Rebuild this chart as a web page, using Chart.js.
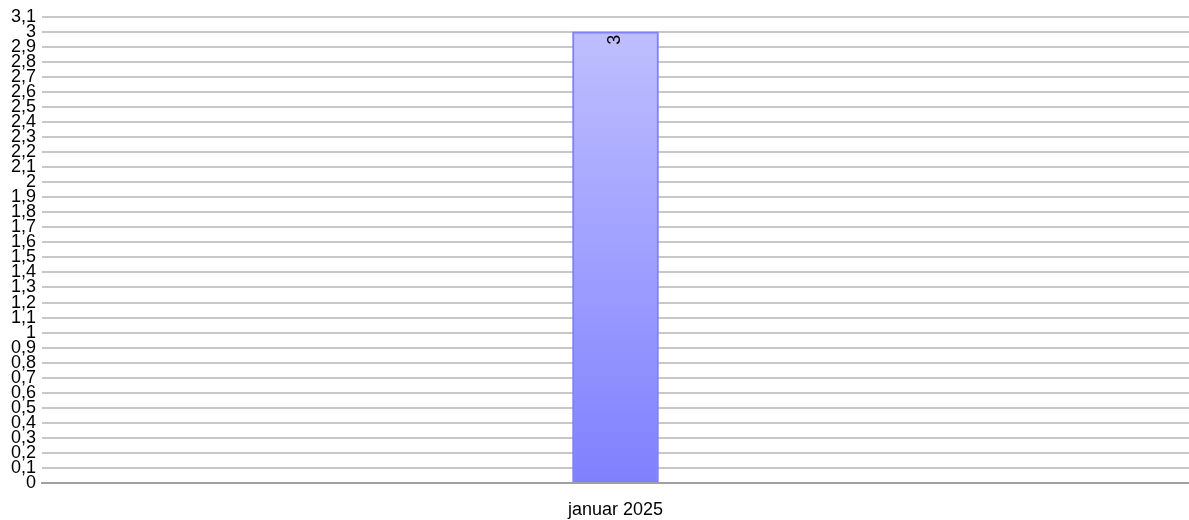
<!DOCTYPE html>
<html lang="nb">
<head>
  <meta charset="UTF-8" />
  <title>Januar 2025</title>
  <style>
    body { margin: 0; padding: 0; background: #fff; }
    #wrap { width: 1189px; height: 520px; }
  </style>
</head>
<body>
  <div id="wrap"><canvas id="chart" width="1189" height="520"></canvas></div>

  <script src="https://cdn.jsdelivr.net/npm/chart.js"></script>
  <script>
    // data
    const categories = ['januar 2025'];
    const counts = [3];
    const yMin = 0;
    const yMax = 3.1;
    const yStep = 0.1;

    const FONT = 'Arial, "Liberation Sans", sans-serif';
    const ctx = document.getElementById('chart').getContext('2d');

    function barGradient(chart) {
      const area = chart.chartArea;
      if (!area) return '#a0a0ff';
      const y = chart.scales.y;
      const g = ctx.createLinearGradient(0, y.getPixelForValue(counts[0]), 0, area.bottom);
      g.addColorStop(0, '#bebeff');
      g.addColorStop(1, '#8080ff');
      return g;
    }

    // value written sideways just inside the top of each bar
    const valueLabels = {
      id: 'valueLabels',
      afterDatasetsDraw(chart) {
        const c = chart.ctx;
        chart.getDatasetMeta(0).data.forEach((bar, i) => {
          c.save();
          c.translate(bar.x, bar.y + 3);
          c.rotate(-Math.PI / 2);
          c.font = '18px ' + FONT;
          c.fillStyle = '#000';
          c.textAlign = 'right';
          c.textBaseline = 'middle';
          c.fillText(String(counts[i]), 0, 0);
          c.restore();
        });
      }
    };

    function fmt(v) {
      const r = Math.round(v * 10) / 10;
      return String(r).replace('.', ',');
    }

    new Chart(ctx, {
      type: 'bar',
      data: {
        labels: categories,
        datasets: [{
          data: counts,
          backgroundColor: (c) => barGradient(c.chart),
          borderColor: '#8080ff',
          borderWidth: 2,
          barThickness: 86,
        }],
      },
      options: {
        responsive: false,
        animation: false,
        layout: { padding: { top: 6, right: 0, bottom: 0, left: 0 } },
        plugins: {
          legend: { display: false },
          tooltip: { enabled: false },
        },
        scales: {
          x: {
            afterFit(scale) { scale.height = 37; },
            grid: { display: false, drawTicks: false },
            border: { display: true, color: '#a0a0a0', width: 2 },
            ticks: {
              color: '#000',
              padding: 16,
              font: { family: FONT, size: 18 },
            },
          },
          y: {
            min: yMin,
            max: yMax,
            afterFit(scale) { scale.width = 42; },
            border: { display: false },
            grid: { color: '#c8c8c8', lineWidth: 2, drawTicks: false },
            ticks: {
              stepSize: yStep,
              autoSkip: false,
              padding: 6,
              color: '#000',
              font: { family: FONT, size: 18 },
              callback: (v) => fmt(v),
            },
          },
        },
      },
      plugins: [valueLabels],
    });
  </script>
</body>
</html>
